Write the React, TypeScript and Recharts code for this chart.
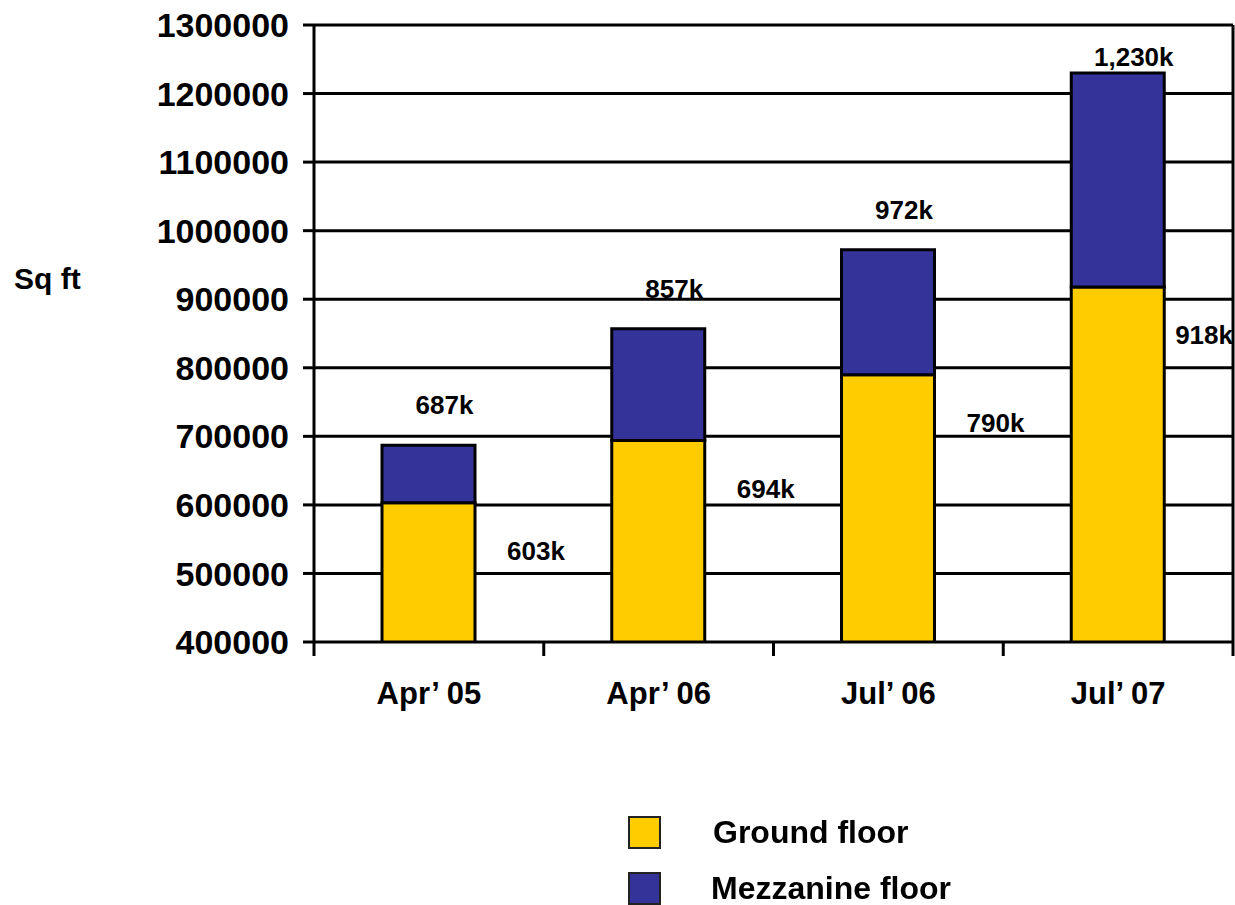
import React from 'react';
import {
  BarChart,
  Bar,
  XAxis,
  YAxis,
  CartesianGrid,
  LabelList,
  Label,
  Legend,
} from 'recharts';

// Floor space by period
const periods = ["Apr\u2019 05", "Apr\u2019 06", "Jul\u2019 06", "Jul\u2019 07"];
const groundFloor = [603000, 694000, 790000, 918000];
const totalSpace = [687000, 857000, 972000, 1230000];
const yTicks = [400000, 500000, 600000, 700000, 800000, 900000, 1000000, 1100000, 1200000, 1300000];

const data = periods.map((period, i) => ({
  period,
  ground: groundFloor[i],
  mezzanine: totalSpace[i] - groundFloor[i],
  total: totalSpace[i],
}));

const W = 1235;
const H = 905;
const MARGIN = { top: 25, right: 2, left: 0, bottom: 203 };
const Y_AXIS_W = 314;
const X_AXIS_H = 60;
const PLOT_W = W - MARGIN.left - MARGIN.right - Y_AXIS_W;
const PLOT_TOP = MARGIN.top;
const BAND = PLOT_W / periods.length;

const FONT = '"Liberation Sans", Arial, Helvetica, sans-serif';
const YELLOW = '#FFCC00';
const BLUE = '#333399';
const LABEL_SIZE = 26;

const fmtK = (v: number) => `${(v / 1000).toLocaleString('en-US')}k`;

// Category label plus tick marks on the category boundaries
const XTick = (props: any) => {
  const { x, y, payload, index } = props;
  const half = BAND / 2;
  return (
    <g>
      <line x1={x - half} x2={x - half} y1={y} y2={y + 14} stroke="#000" strokeWidth={3} />
      {index === periods.length - 1 && (
        <line x1={x + half} x2={x + half} y1={y} y2={y + 14} stroke="#000" strokeWidth={3} />
      )}
      <text
        x={x}
        y={y + 62}
        textAnchor="middle"
        fontFamily={FONT}
        fontWeight="bold"
        fontSize={31}
        fill="#000"
      >
        {payload.value}
      </text>
    </g>
  );
};

const GroundLabel = (props: any) => {
  const { x, y, width, value } = props;
  const cx = x + width + 61;
  // keep the label inside the chart's right edge
  const overflow = cx + 32 > W - 2;
  return (
    <text
      x={overflow ? W - 2 : cx}
      y={y + 48}
      dy="0.355em"
      textAnchor={overflow ? 'end' : 'middle'}
      fontFamily={FONT}
      fontWeight="bold"
      fontSize={LABEL_SIZE}
      fill="#000"
    >
      {fmtK(value)}
    </text>
  );
};

const TotalLabel = (props: any) => {
  const { x, y, width, value } = props;
  const cy = Math.max(y - 40, PLOT_TOP + 32);
  return (
    <text
      x={x + width / 2 + 16}
      y={cy}
      dy="0.355em"
      textAnchor="middle"
      fontFamily={FONT}
      fontWeight="bold"
      fontSize={LABEL_SIZE}
      fill="#000"
    >
      {fmtK(value)}
    </text>
  );
};

const LegendBox = (props: any) => {
  const { payload } = props;
  return (
    <div style={{ fontFamily: FONT }}>
      {(payload || []).map((entry: any, i: number) => (
        <div
          key={entry.value}
          style={{ display: 'flex', alignItems: 'center', height: 56 }}
        >
          <div
            style={{
              width: 29,
              height: 29,
              background: entry.color,
              border: '2px solid #222',
              marginRight: i === 0 ? 52 : 50,
            }}
          />
          <span style={{ fontSize: 32, fontWeight: 'bold', color: '#000' }}>{entry.value}</span>
        </div>
      ))}
    </div>
  );
};

export default function App() {
  return (
    <div style={{ position: 'fixed', left: 0, top: 0, width: W, height: H, background: '#fff' }}>
      <BarChart width={W} height={H} data={data} margin={MARGIN} barSize={93}>
        <CartesianGrid
          stroke="#000"
          strokeWidth={3}
          vertical={true}
          verticalCoordinatesGenerator={({ offset }: any) => [offset.left + offset.width]}
        />
        <XAxis
          dataKey="period"
          height={X_AXIS_H}
          axisLine={false}
          tickLine={false}
          tickSize={0}
          tickMargin={0}
          tick={<XTick />}
          interval={0}
        />
        <YAxis
          width={Y_AXIS_W}
          domain={[400000, 1300000]}
          ticks={yTicks}
          allowDataOverflow
          interval={0}
          axisLine={{ stroke: '#000', strokeWidth: 3 }}
          tickLine={{ stroke: '#000', strokeWidth: 3 }}
          tickSize={11}
          tickMargin={14}
          tick={{ fontFamily: FONT, fontWeight: 'bold', fontSize: 34, fill: '#000' }}
        >
          <Label
            content={() => (
              <text
                x={14}
                y={278}
                dy="0.355em"
                fontFamily={FONT}
                fontWeight="bold"
                fontSize={30}
                fill="#000"
              >
                Sq ft
              </text>
            )}
          />
        </YAxis>
        <Legend
          layout="horizontal"
          verticalAlign="middle"
          align="center"
          content={<LegendBox />}
          wrapperStyle={{ left: 628, top: 804, width: 400, height: 112 }}
        />
        <Bar
          dataKey="ground"
          name="Ground floor"
          stackId="floor"
          fill={YELLOW}
          stroke="#000"
          strokeWidth={3}
          isAnimationActive={false}
        >
          <LabelList dataKey="ground" content={<GroundLabel />} />
        </Bar>
        <Bar
          dataKey="mezzanine"
          name="Mezzanine floor"
          stackId="floor"
          fill={BLUE}
          stroke="#000"
          strokeWidth={3}
          isAnimationActive={false}
        >
          <LabelList dataKey="total" content={<TotalLabel />} />
        </Bar>
      </BarChart>
    </div>
  );
}
